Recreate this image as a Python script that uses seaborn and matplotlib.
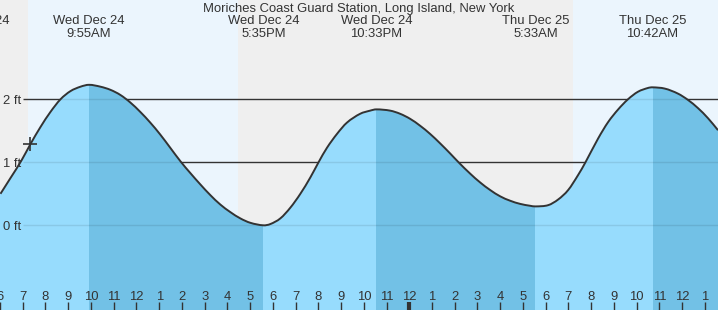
import matplotlib
matplotlib.use("Agg")
import matplotlib.pyplot as plt
import matplotlib.transforms as mtransforms
from matplotlib.path import Path
from matplotlib.patches import PathPatch
import seaborn as sns
import numpy as np

# ---- data ----
title = "Moriches Coast Guard Station, Long Island, New York"

# hours since Wed Dec 24 00:00, tide height in ft
tide_hours = [6.02, 6.46, 6.93, 7.34, 7.78, 8.22, 8.66, 9.10, 9.54, 9.917, 10.42, 10.86,
              11.29, 11.73, 12.17, 12.61, 13.05, 13.49, 13.95, 14.37, 14.81, 15.25, 15.69,
              16.13, 16.57, 17.01, 17.583, 17.89, 18.33, 18.77, 19.21, 19.65, 20.01, 20.38,
              20.82, 21.26, 21.84, 22.28, 22.55, 23.16, 23.60, 24.04, 24.48, 24.92, 25.36,
              25.80, 26.17, 26.68, 27.12, 27.56, 28.00, 28.44, 28.88, 29.32, 29.55, 30.11,
              30.55, 30.99, 31.43, 31.75, 32.31, 32.75, 33.19, 33.62, 34.06, 34.50, 34.70,
              35.24, 35.82, 36.26, 36.70, 37.14, 37.58]
tide_ft = [0.50, 0.75, 1.02, 1.29, 1.56, 1.80, 2.00, 2.13, 2.20, 2.23, 2.20, 2.15,
           2.07, 1.95, 1.80, 1.63, 1.44, 1.23, 1.01, 0.83, 0.65, 0.48, 0.33,
           0.21, 0.11, 0.04, 0.00, 0.02, 0.11, 0.28, 0.50, 0.76, 1.00, 1.23,
           1.45, 1.63, 1.77, 1.82, 1.84, 1.82, 1.77, 1.69, 1.58, 1.45, 1.30,
           1.14, 1.00, 0.82, 0.68, 0.56, 0.46, 0.39, 0.34, 0.31, 0.30, 0.32,
           0.41, 0.56, 0.80, 1.00, 1.38, 1.64, 1.84, 2.00, 2.12, 2.18, 2.19,
           2.17, 2.09, 1.99, 1.86, 1.70, 1.51]

event_hours = [9.917, 17.583, 22.55, 29.55, 34.70]
event_days = ["Wed Dec 24", "Wed Dec 24", "Wed Dec 24", "Thu Dec 25", "Thu Dec 25"]
event_times = ["9:55AM", "5:35PM", "10:33PM", "5:33AM", "10:42AM"]
event_kind = ["high", "low", "high", "low", "high"]

partial_label_hour = 4.85
partial_label_text = "Wed Dec 24"

day_starts = [7.22, 31.21]
day_ends = [16.48, 40.0]

level_ft = [0, 1, 2]
level_labels = ["0 ft", "1 ft", "2 ft"]

tick_hours = list(range(6, 38))
tick_labels = [str((h % 12) or 12) for h in tick_hours]

now_hour = [7.34]
now_ft = [1.29]

# ---- styling ----
sns.set_style("white")
XMIN, XMAX = 6.03, 37.58
YMIN, YMAX = -1.344, 3.576
night_col = "#efefef"
day_col = "#ebf5fd"
light_fill = "#97dcfd"
dark_fill = "#72c1e6"
txt = "#333333"
FONT = "Liberation Sans"
FS = 9.4

fig = plt.figure(figsize=(7.18, 3.10), dpi=100)
ax = fig.add_axes([0, 0, 1, 1])
ax.set_xlim(XMIN, XMAX)
ax.set_ylim(YMIN, YMAX)
ax.set_facecolor(night_col)
for s in ax.spines.values():
    s.set_visible(False)


def smooth_path(xs, ys):
    """Cubic Hermite (Bezier) path through the read points, for smooth rendering."""
    xs = np.asarray(xs, float)
    ys = np.asarray(ys, float)
    n = len(xs)
    m = np.empty(n)
    m[1:-1] = (ys[2:] - ys[:-2]) / (xs[2:] - xs[:-2])
    m[0] = (ys[1] - ys[0]) / (xs[1] - xs[0])
    m[-1] = (ys[-1] - ys[-2]) / (xs[-1] - xs[-2])
    verts = [(xs[0], ys[0])]
    codes = [Path.MOVETO]
    for i in range(n - 1):
        h = xs[i + 1] - xs[i]
        verts += [(xs[i] + h / 3, ys[i] + m[i] * h / 3),
                  (xs[i + 1] - h / 3, ys[i + 1] - m[i + 1] * h / 3),
                  (xs[i + 1], ys[i + 1])]
        codes += [Path.CURVE4] * 3
    return verts, codes


verts, codes = smooth_path(tide_hours, tide_ft)

# daytime background
for a, b in zip(day_starts, day_ends):
    ax.axvspan(a, b, color=day_col, zorder=0, lw=0)

# level lines behind the water
for lv in level_ft[1:]:
    ax.hlines(lv, 7.0, XMAX, color=txt, lw=1.0, zorder=1)

# water fill (closed smooth path)
fverts = verts + [(tide_hours[-1] + 1, tide_ft[-1]), (tide_hours[-1] + 1, YMIN - 1),
                  (tide_hours[0] - 1, YMIN - 1), (tide_hours[0] - 1, tide_ft[0]),
                  (tide_hours[0], tide_ft[0])]
fcodes = codes + [Path.LINETO] * 4 + [Path.CLOSEPOLY]
water = PathPatch(Path(fverts, fcodes), facecolor=light_fill, edgecolor="none", zorder=2)
ax.add_patch(water)

# falling tide (high -> low) darker bands
bounds = event_hours + [XMAX + 1]
for i, kind in enumerate(event_kind):
    if kind == "high":
        span = ax.axvspan(bounds[i], bounds[i + 1], color=dark_fill, lw=0, zorder=3)
        span.set_clip_path(water)

# faint level lines over the water
for lv in level_ft:
    hl = ax.hlines(lv, 7.0, XMAX, color="black", alpha=0.09, lw=1.0, zorder=4)
    hl.set_clip_path(water)

# tide curve
curve = PathPatch(Path(verts, codes), facecolor="none", edgecolor=txt, lw=1.4, zorder=5)
ax.add_patch(curve)

# current time marker
sns.scatterplot(x=now_hour, y=now_ft, ax=ax, marker="+", s=90, color=txt,
                linewidth=1.2, zorder=6, legend=False)

# text shifted ~2 px down so glyphs sit where the reference has them
down = mtransforms.ScaledTranslation(0, -2 / 100, fig.dpi_scale_trans)
blend = mtransforms.blended_transform_factory(ax.transData, ax.transAxes)

# level labels
for lv, lab in zip(level_ft, level_labels):
    ax.text(XMIN + 2 / 22.75, lv, lab, ha="left", va="center", fontsize=FS,
            family=FONT, color=txt, zorder=7, transform=ax.transData + down)

# title
ax.text(0.5, 1 - 7 / 310, title, transform=ax.transAxes + down, ha="center", va="center",
        fontsize=FS, family=FONT, color=txt, zorder=7)

# event labels
for h, d, t in zip(event_hours, event_days, event_times):
    ax.text(h, 1 - 19.5 / 310, d, transform=blend + down, ha="center", va="center",
            fontsize=FS, family=FONT, color=txt, zorder=7)
    ax.text(h, 1 - 32 / 310, t, transform=blend + down, ha="center", va="center",
            fontsize=FS, family=FONT, color=txt, zorder=7)
ax.text(partial_label_hour, 1 - 19.5 / 310, partial_label_text, transform=blend + down,
        ha="center", va="center", fontsize=FS, family=FONT, color=txt, zorder=7)

# hour ticks
ax.set_xticks(tick_hours)
ax.set_xticklabels([])
ax.set_yticks([])
ax.xaxis.set_zorder(8)
ax.tick_params(axis="x", direction="in", length=5.8, width=1, color=txt,
               bottom=True, top=False)
for h, tk in zip(tick_hours, ax.xaxis.get_major_ticks()):
    if h == 24:
        tk.tick1line.set_markeredgewidth(3)
for h, lab in zip(tick_hours, tick_labels):
    ax.text(h, 15 / 310, lab, transform=blend + down, ha="center", va="center",
            fontsize=FS, family=FONT, color=txt, zorder=7)

fig.savefig("out.png", dpi=100)
